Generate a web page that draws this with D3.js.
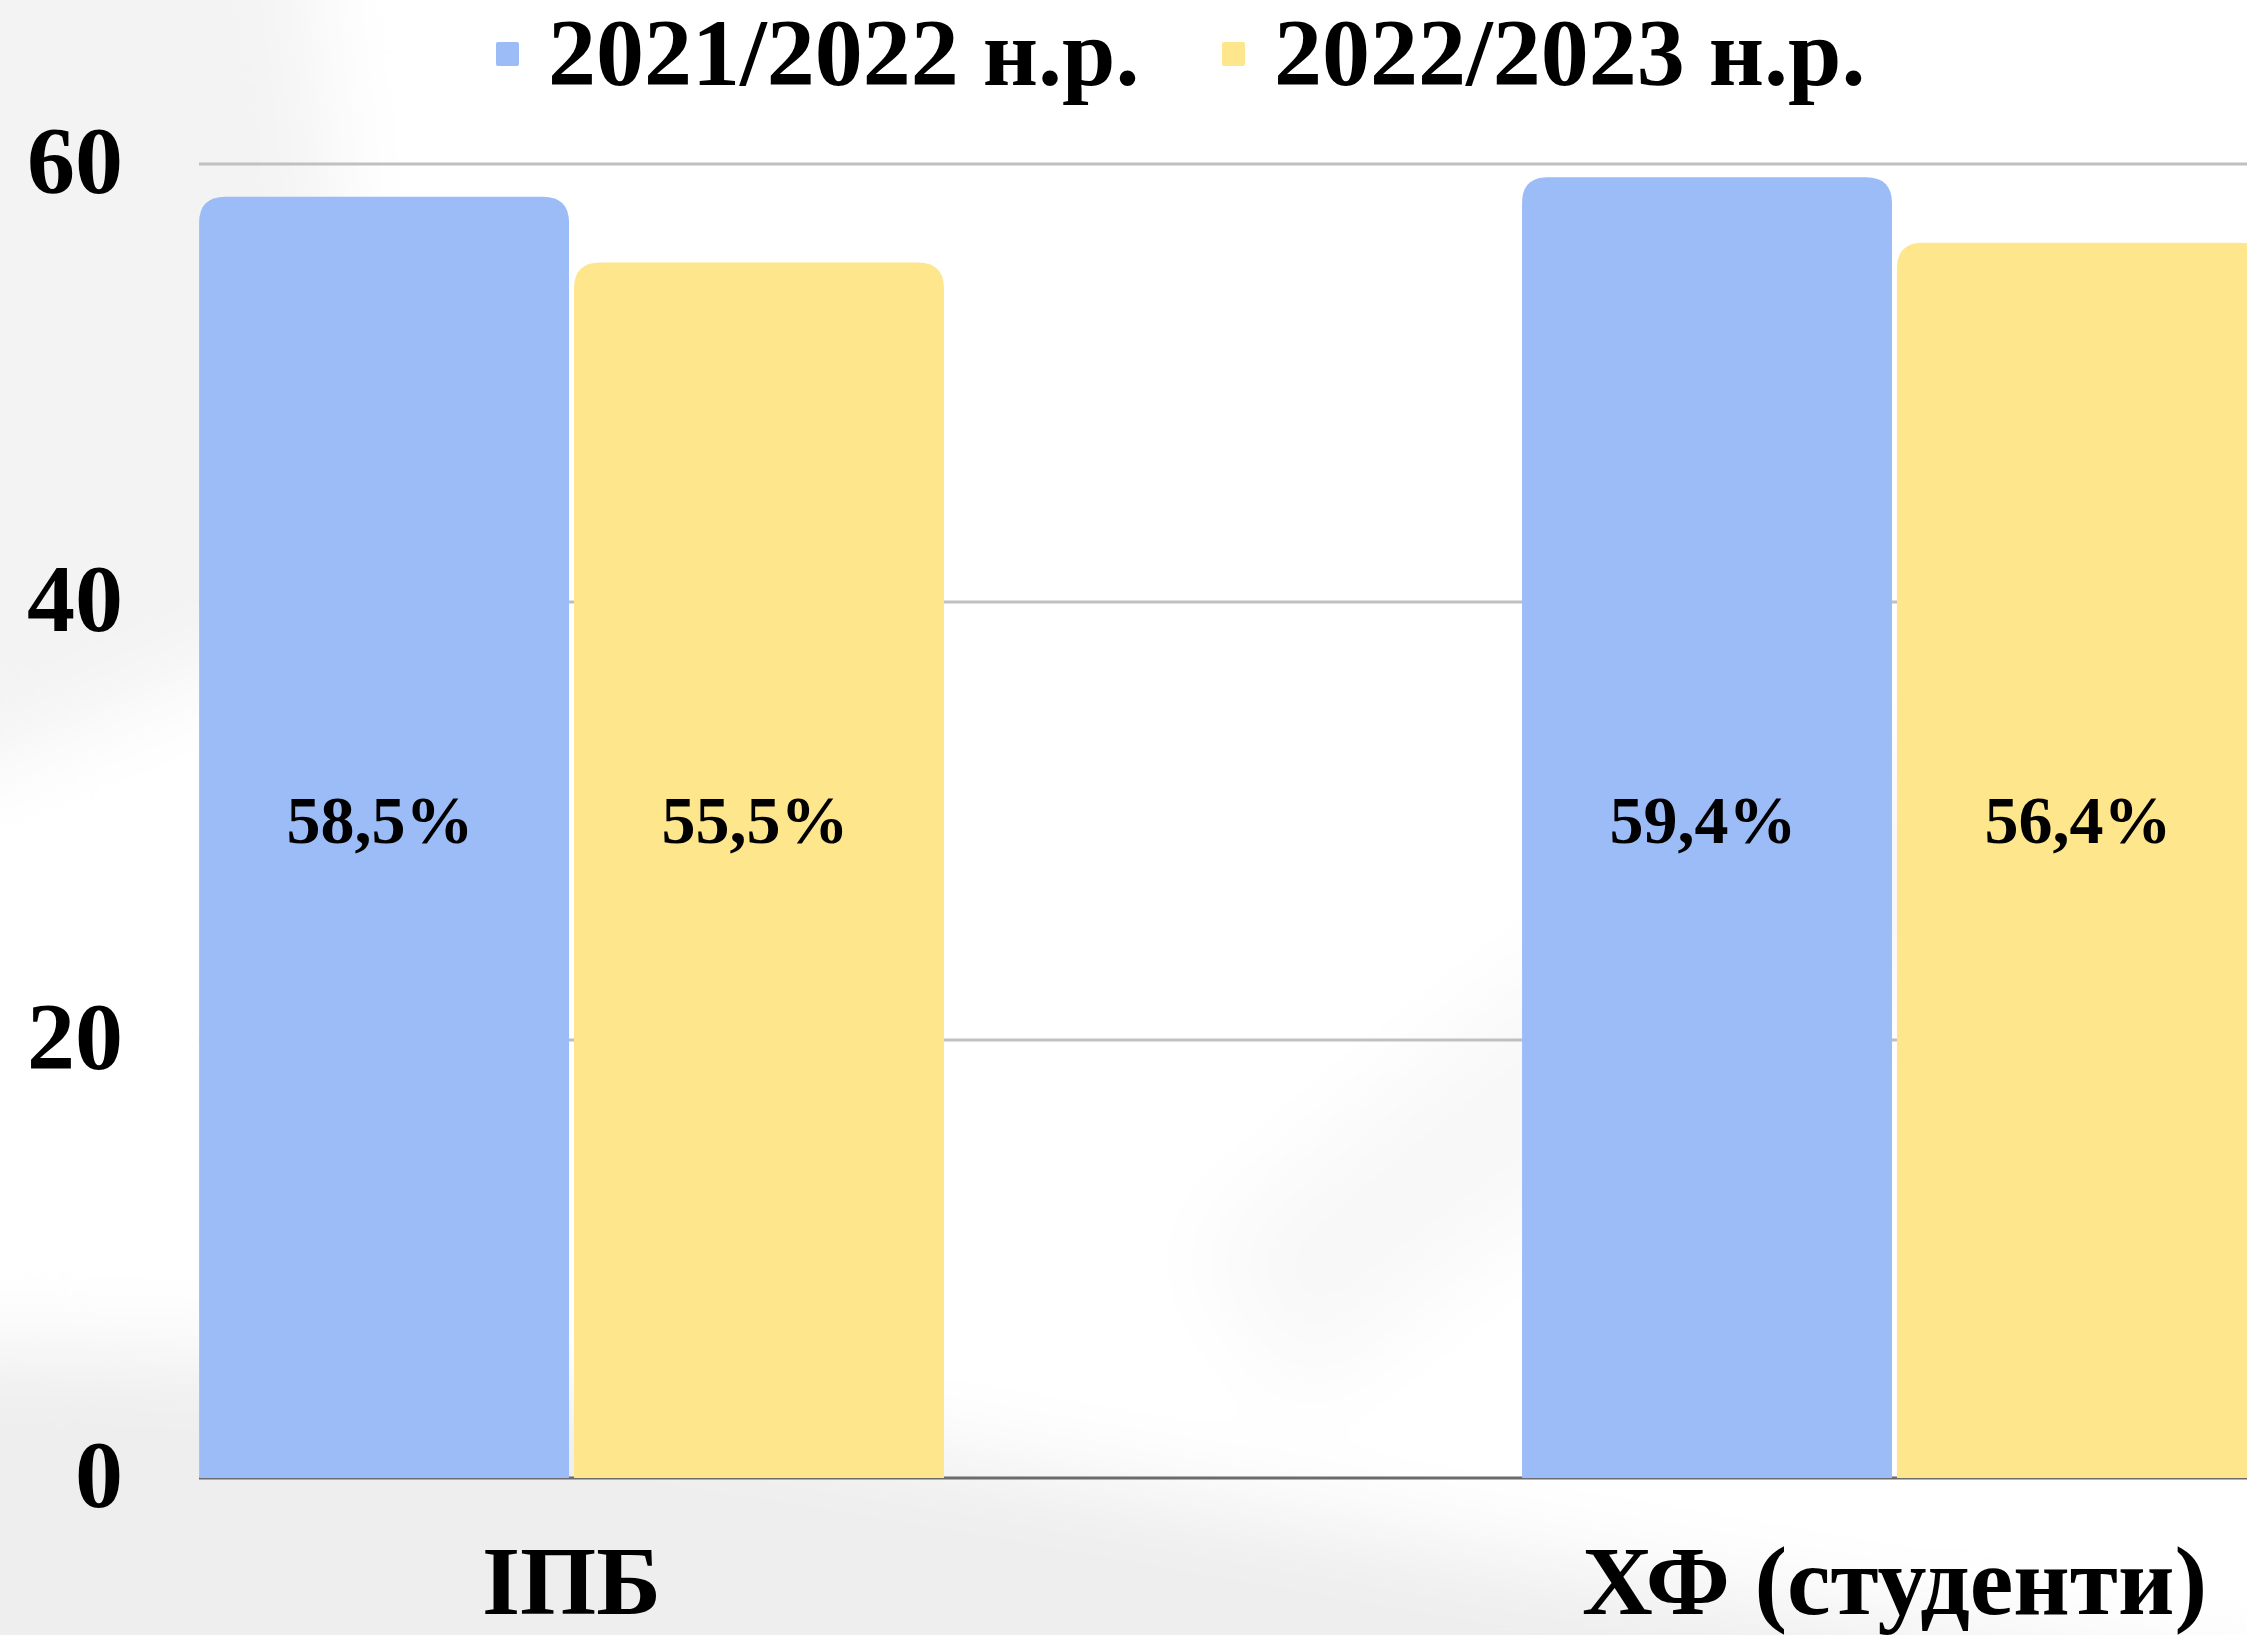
<!DOCTYPE html>
<html>
<head>
<meta charset="utf-8">
<script src="https://cdn.jsdelivr.net/npm/d3@7"></script>
<style>
  html, body { margin: 0; padding: 0; background: #fff; overflow: hidden; }
  text { font-family: "Liberation Serif", "Times New Roman", serif; font-weight: bold; fill: #000; }
</style>
</head>
<body>
<div id="chart-container"></div>
<script>
const categories = ['ІПБ', 'ХФ (студенти)'];
const series = ['2021/2022 н.р.', '2022/2023 н.р.'];
const values2122 = [58.5, 59.4];
const values2223 = [55.5, 56.4];
const labels2122 = ['58,5%', '59,4%'];
const labels2223 = ['55,5%', '56,4%'];
const yTicks = [0, 20, 40, 60];
const colors = ['#9bbcf7', '#fee68c'];

const width = 2247,
  height = 1635;

const svg = d3.select('#chart-container')
  .append('svg')
  .attr('width', width)
  .attr('height', height);

// soft grey background streaks
const defs = svg.append('defs');
defs.append('filter').attr('id', 'blur')
  .attr('x', '-50%').attr('y', '-50%').attr('width', '200%').attr('height', '200%')
  .append('feGaussianBlur').attr('stdDeviation', 45);
const bg = svg.append('g').attr('filter', 'url(#blur)');
bg.append('rect').attr('width', width).attr('height', height).attr('fill', '#fff');
bg.append('path').attr('d', 'M-100,-100 L300,-100 L380,600 L-100,800 Z').attr('fill', '#f3f3f3');
bg.append('path').attr('d', 'M-100,1350 C500,1330 1200,1520 2400,1700 L-100,1800 Z').attr('fill', '#eeeeee');
bg.append('path').attr('d', 'M1200,1250 C1500,1000 1700,800 2300,600 L2400,800 C1900,950 1600,1150 1300,1400 Z').attr('fill', '#f8f8f8');

const margin = {left: 199, top: 164, bottom: 1478};

// y scale: 0..60
const y = d3.scaleLinear()
  .domain([0, 60])
  .range([margin.bottom, margin.top]);

// category scale, the group width is 2 bars of 370 and a 5px gap
const x0 = d3.scaleBand()
  .domain(categories)
  .range([-379, 2845])
  .padding(0.437);
const x1 = d3.scaleBand()
  .domain(series)
  .range([0, x0.bandwidth()])
  .paddingInner(0.0133);

// gridlines
svg.append('g')
  .selectAll('line')
  .data(yTicks.filter(d => d > 0))
  .join('line')
  .attr('x1', margin.left)
  .attr('x2', width)
  .attr('y1', d => y(d))
  .attr('y2', d => y(d))
  .attr('stroke', '#c0c0c0')
  .attr('stroke-width', 3);

// baseline
svg.append('line')
  .attr('x1', margin.left)
  .attr('x2', width)
  .attr('y1', y(0))
  .attr('y2', y(0))
  .attr('stroke', '#6b6b6b')
  .attr('stroke-width', 3);

// y axis labels
const yAxis = d3.axisLeft(y).tickValues(yTicks).tickSize(0).tickPadding(0);
const yg = svg.append('g')
  .attr('transform', 'translate(123,0)')
  .call(yAxis);
yg.select('.domain').remove();
yg.selectAll('text')
  .attr('font-size', 96)
  .attr('font-family', 'Liberation Serif')
  .attr('font-weight', 'bold')
  .attr('fill', '#000')
  .attr('dy', '0.3em');

// bar path with rounded top corners
const barPath = (x, w, yTop, yBot, r) => {
  const rr = Math.min(r, (yBot - yTop));
  return `M${x},${yBot} L${x},${yTop + rr} Q${x},${yTop} ${x + rr},${yTop} ` +
    `L${x + w - rr},${yTop} Q${x + w},${yTop} ${x + w},${yTop + rr} L${x + w},${yBot} Z`;
};

const rows = categories.map((c, i) => ({
  cat: c,
  bars: [
    {s: series[0], v: values2122[i], label: labels2122[i], color: colors[0]},
    {s: series[1], v: values2223[i], label: labels2223[i], color: colors[1]}
  ]
}));

const groups = svg.append('g')
  .selectAll('g.group')
  .data(rows)
  .join('g')
  .attr('class', 'group')
  .attr('transform', d => `translate(${x0(d.cat)},0)`);

groups.selectAll('path.bar')
  .data(d => d.bars)
  .join('path')
  .attr('class', 'bar')
  .attr('fill', d => d.color)
  .attr('d', d => barPath(x1(d.s), x1.bandwidth(), y(d.v), y(0), 26));

// value labels sit at a fixed height inside the bars
groups.selectAll('text.value')
  .data(d => d.bars)
  .join('text')
  .attr('class', 'value')
  .attr('x', d => x1(d.s) + x1.bandwidth() / 2 - 4)
  .attr('y', y(30))
  .attr('dy', '0.33em')
  .attr('text-anchor', 'middle')
  .attr('font-size', 68)
  .text(d => d.label);

// category labels
svg.append('g')
  .selectAll('text')
  .data(categories)
  .join('text')
  .attr('x', d => x0(d) + x0.bandwidth() / 2)
  .attr('y', 1614)
  .attr('text-anchor', 'middle')
  .attr('font-size', 98)
  .text(d => d);

// legend
const legendX = [496, 1222];
const legend = svg.append('g')
  .selectAll('g')
  .data(series)
  .join('g')
  .attr('transform', (_, i) => `translate(${legendX[i]},0)`);
legend.append('rect')
  .attr('x', 0)
  .attr('y', 42)
  .attr('width', 23)
  .attr('height', 24)
  .attr('rx', 2)
  .attr('fill', (_, i) => colors[i]);
legend.append('text')
  .attr('x', 52)
  .attr('y', 85)
  .attr('font-size', 96)
  .text(d => d);
</script>
</body>
</html>
